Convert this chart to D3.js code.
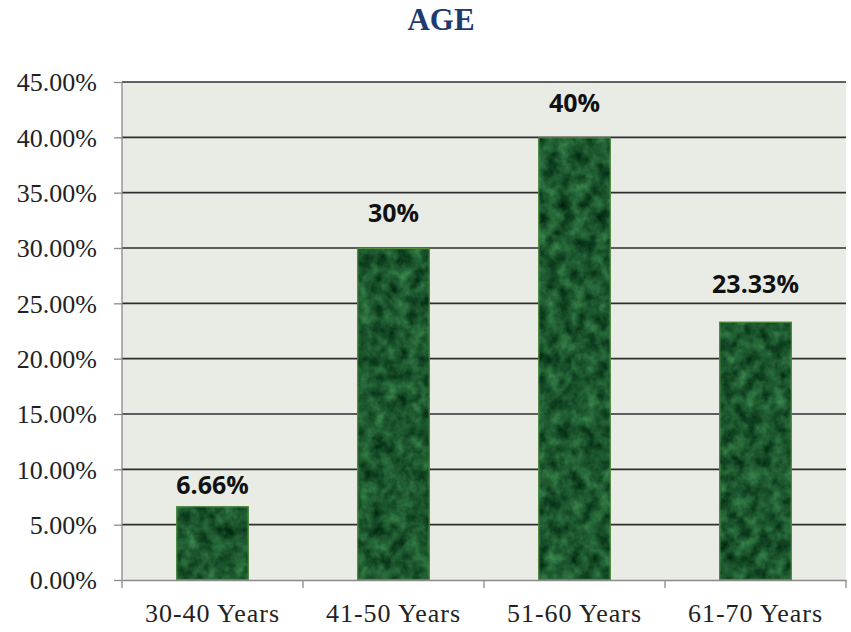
<!DOCTYPE html>
<html>
<head>
<meta charset="utf-8">
<script src="https://cdn.jsdelivr.net/npm/d3@7"></script>
<style>
  html, body { margin: 0; padding: 0; background: #ffffff; }
  svg { display: block; }
</style>
</head>
<body>
<svg id="chart" width="851" height="632"></svg>
<script>
// ---- data ----
const categories = ["30-40 Years", "41-50 Years", "51-60 Years", "61-70 Years"];
const values = [6.66, 30, 40, 23.33];
const valueLabels = ["6.66%", "30%", "40%", "23.33%"];
const yTicks = [0, 5, 10, 15, 20, 25, 30, 35, 40, 45];
const title = "AGE";

// ---- layout ----
const W = 851, H = 632;
const margin = { top: 82, right: 5, bottom: 52, left: 122 };
const innerW = W - margin.left - margin.right;
const innerH = H - margin.top - margin.bottom;

const svg = d3.select("#chart");

// defs: marble texture filter and gridline shadow
const defs = svg.append("defs");
const f = defs.append("filter").attr("id", "marble")
  .attr("x", 0).attr("y", 0).attr("width", 1).attr("height", 1)
  .attr("filterUnits", "objectBoundingBox")
  .attr("color-interpolation-filters", "sRGB");
f.append("feTurbulence").attr("type", "fractalNoise")
  .attr("baseFrequency", "0.08 0.07").attr("numOctaves", 4).attr("seed", 7).attr("result", "noise");
f.append("feColorMatrix").attr("in", "noise").attr("type", "matrix")
  .attr("values", "0.3 0 0 0 -0.04  0.5 0 0 0 0.09  0.32 0 0 0 0.02  0 0 0 0 1")
  .attr("result", "col");
f.append("feComposite").attr("in", "col").attr("in2", "SourceGraphic").attr("operator", "in");

const blur = defs.append("filter").attr("id", "soft").attr("x", "-5%").attr("y", "-200%").attr("width", "110%").attr("height", "500%");
blur.append("feGaussianBlur").attr("stdDeviation", 1.6);

const g = svg.append("g").attr("transform", `translate(${margin.left},${margin.top})`);

const x = d3.scaleBand().domain(categories).range([0, innerW]).paddingInner(0.6).paddingOuter(0.3);
const xb = d3.scaleBand().domain(categories).range([0, innerW]);
const y = d3.scaleLinear().domain([0, 45]).range([innerH, 0]);

// plot background
g.append("rect").attr("x", 0).attr("y", 0).attr("width", innerW).attr("height", innerH)
  .attr("fill", "#e8ece5");

// gridline shadows
g.append("g").selectAll("line").data(yTicks.filter(t => t > 0)).join("line")
  .attr("x1", 0).attr("x2", innerW)
  .attr("y1", d => y(d) + 4).attr("y2", d => y(d) + 4)
  .attr("stroke", "#c9cdc6").attr("stroke-width", 4).attr("filter", "url(#soft)");

// gridlines
g.append("g").selectAll("line").data(yTicks.filter(t => t > 0)).join("line")
  .attr("x1", 0).attr("x2", innerW)
  .attr("y1", d => y(d)).attr("y2", d => y(d))
  .attr("stroke", "#2e2e2e").attr("stroke-width", 1.6);

// bars
const bars = g.append("g");
bars.selectAll("rect.fillbar").data(values).join("rect")
  .attr("class", "fillbar")
  .attr("x", (d, i) => x(categories[i]))
  .attr("y", d => y(d))
  .attr("width", x.bandwidth())
  .attr("height", d => y(0) - y(d))
  .attr("fill", "#1d5a33")
  .attr("filter", "url(#marble)");
bars.selectAll("rect.outline").data(values).join("rect")
  .attr("class", "outline")
  .attr("x", (d, i) => x(categories[i]) + 0.5)
  .attr("y", d => y(d) + 0.5)
  .attr("width", x.bandwidth() - 1)
  .attr("height", d => y(0) - y(d) - 1)
  .attr("fill", "none")
  .attr("stroke", "#4f8a3e").attr("stroke-width", 1.2);

// y axis
const yAxis = d3.axisLeft(y).tickValues(yTicks).tickFormat(d => d.toFixed(2) + "%").tickSize(8).tickPadding(17);
const ya = g.append("g").call(yAxis);
ya.select(".domain").attr("stroke", "#8a8a8a").attr("stroke-width", 1.3)
  .attr("d", `M0,0V${innerH + 8}`);
ya.selectAll(".tick line").attr("stroke", "#8a8a8a").attr("stroke-width", 1.3);
ya.selectAll(".tick text")
  .attr("font-family", "'Liberation Serif', 'Times New Roman', serif")
  .attr("font-size", 26).attr("fill", "#222").attr("dy", "0.34em");

// x axis
const xAxis = d3.axisBottom(xb).tickSize(0).tickPadding(24);
const xa = g.append("g").attr("transform", `translate(0,${innerH})`).call(xAxis);
xa.select(".domain").attr("stroke", "#8a8a8a").attr("stroke-width", 1.3);
xa.selectAll(".tick text")
  .attr("font-family", "'Liberation Serif', 'Times New Roman', serif")
  .attr("font-size", 26).attr("fill", "#222").attr("letter-spacing", "1px");
// boundary ticks between categories
g.append("g").selectAll("line").data(categories).join("line")
  .attr("x1", d => xb(d) + xb.bandwidth())
  .attr("x2", d => xb(d) + xb.bandwidth())
  .attr("y1", innerH).attr("y2", innerH + 8)
  .attr("stroke", "#8a8a8a").attr("stroke-width", 1.3);

// value labels
const labelGap = [12, 26, 25, 29];
g.append("g").selectAll("text").data(values).join("text")
  .attr("x", (d, i) => x(categories[i]) + x.bandwidth() / 2)
  .attr("y", (d, i) => y(d) - labelGap[i])
  .attr("text-anchor", "middle")
  .attr("font-family", "'Open Sans', 'Liberation Sans', sans-serif")
  .attr("font-weight", 700).attr("font-size", 25).attr("fill", "#111")
  .text((d, i) => valueLabels[i]);

// title
svg.append("text")
  .attr("x", 441).attr("y", 30)
  .attr("text-anchor", "middle")
  .attr("font-family", "'Liberation Serif', 'Times New Roman', serif")
  .attr("font-weight", 700).attr("font-size", 31).attr("fill", "#1f3a70")
  .text(title);
</script>
</body>
</html>
